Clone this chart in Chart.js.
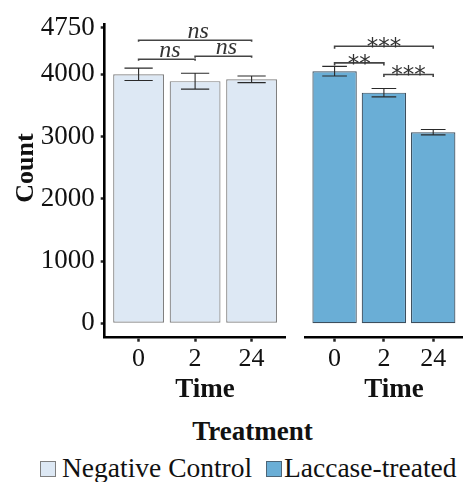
<!DOCTYPE html>
<html>
<head>
<meta charset="utf-8">
<script src="https://cdn.jsdelivr.net/npm/chart.js@4.4.1/dist/chart.umd.min.js"></script>
<style>
  html, body { margin: 0; padding: 0; background: #fff; }
  #wrap { position: relative; width: 465px; height: 482px; overflow: hidden; font-family: "Liberation Serif", "Times New Roman", serif; color: #111; }
  #leftBox { position: absolute; left: 0; top: 0; }
  #rightBox { position: absolute; left: 290px; top: 0; }
  #treatment { position: absolute; left: 0; width: 505px; top: 418px; text-align: center; font-weight: bold; font-size: 27px; line-height: 27px; }
  .key { position: absolute; top: 461px; width: 14px; height: 14px; border: 1px solid #7f7f7f; }
  .key.control { left: 40px; background: #dde8f4; }
  .key.laccase { left: 266px; background: #6aaed6; border-color: #4d6577; }
  .keyText { position: absolute; top: 454px; font-size: 27.5px; line-height: 27px; white-space: nowrap; }
</style>
</head>
<body>
<div id="wrap">
  <div id="leftBox"><canvas id="controlChart" width="300" height="400"></canvas></div>
  <div id="rightBox"><canvas id="laccaseChart" width="175" height="400"></canvas></div>
  <div id="treatment">Treatment</div>
  <div class="key control"></div><span class="keyText" style="left:62px">Negative Control</span>
  <div class="key laccase"></div><span class="keyText" style="left:284px">Laccase-treated</span>
</div>
<script>
const timeLabels = ["0", "2", "24"];
const yTicks = [0, 1000, 2000, 3000, 4000, 4750];

const controlMeans = [4000, 3890, 3920];
const controlErrors = [100, 128, 53];
const laccaseMeans = [4050, 3705, 3070];
const laccaseErrors = [78, 68, 43];

// [from, to, height, label]
const controlBrackets = [[0, 2, 4547, "ns"], [0, 1, 4242, "ns"], [1, 2, 4290, "ns"]];
const laccaseBrackets = [[0, 2, 4451, "***"], [0, 1, 4183, "**"], [1, 2, 3997, "***"]];

const SERIF = "'Liberation Serif', 'Times New Roman', serif";

const errorBars = {
  id: "errorBars",
  afterDatasetsDraw(chart) {
    const { ctx, scales: { x, y } } = chart;
    const ds = chart.data.datasets[0];
    ctx.save();
    ctx.strokeStyle = "#2a2a2a";
    ctx.lineWidth = 1.1;
    ds.data.forEach((pt, i) => {
      const cx = x.getPixelForValue(pt.x);
      const hw = x.getPixelForValue(pt.x + 0.25) - cx;
      const top = y.getPixelForValue(pt.y + ds.errors[i]);
      const bot = y.getPixelForValue(pt.y - ds.errors[i]);
      ctx.beginPath();
      ctx.moveTo(cx, top); ctx.lineTo(cx, bot);
      ctx.moveTo(cx - hw, top); ctx.lineTo(cx + hw, top);
      ctx.moveTo(cx - hw, bot); ctx.lineTo(cx + hw, bot);
      ctx.stroke();
    });
    ctx.restore();
  }
};

const sigBrackets = {
  id: "sigBrackets",
  afterDatasetsDraw(chart) {
    const { ctx, scales: { x, y } } = chart;
    const ds = chart.data.datasets[0];
    const st = ds.bracketStyle;
    ctx.save();
    ctx.strokeStyle = "#444";
    ctx.lineWidth = 1.6;
    ctx.fillStyle = "#333";
    ctx.font = st.font;
    ctx.textAlign = "center";
    ctx.textBaseline = "alphabetic";
    ds.brackets.forEach(([from, to, h, label]) => {
      const x0 = x.getPixelForValue(from);
      const x1 = x.getPixelForValue(to);
      const yy = y.getPixelForValue(h);
      ctx.beginPath();
      ctx.moveTo(x0, yy + st.tip);
      ctx.lineTo(x0, yy);
      ctx.lineTo(x1, yy);
      ctx.lineTo(x1, yy + st.tip);
      ctx.stroke();
      ctx.fillText(label, (x0 + x1) / 2 + st.shift, yy + st.lift);
    });
    ctx.restore();
  }
};

// "Time" under each panel, "Count" beside the left one
const panelTitles = {
  id: "panelTitles",
  afterDraw(chart) {
    const { ctx, chartArea } = chart;
    ctx.save();
    ctx.fillStyle = "#111";
    ctx.font = "bold 27px " + SERIF;
    ctx.textAlign = "center";
    ctx.textBaseline = "alphabetic";
    ctx.fillText("Time", (chartArea.left + chartArea.right) / 2 + 10, 397);
    if (chart.data.datasets[0].showCount) {
      ctx.font = "bold 26px " + SERIF;
      ctx.translate(33, 168);
      ctx.rotate(-Math.PI / 2);
      ctx.fillText("Count", 0, 0);
    }
    ctx.restore();
  }
};

function makePanel(canvasId, means, errors, brackets, colors, opts) {
  return new Chart(document.getElementById(canvasId), {
    type: "bar",
    data: {
      datasets: [{
        data: means.map((v, i) => ({ x: i, y: v })),
        errors: errors,
        brackets: brackets,
        bracketStyle: opts.bracketStyle,
        showCount: opts.showY,
        backgroundColor: colors.fill,
        borderColor: colors.border,
        borderWidth: 1.2,
        borderSkipped: false,
        barPercentage: 0.9,
        categoryPercentage: 1
      }]
    },
    options: {
      responsive: false,
      animation: false,
      layout: { padding: opts.padding },
      plugins: { legend: { display: false }, tooltip: { enabled: false } },
      scales: {
        x: {
          type: "linear",
          min: -0.6,
          max: 2.6,
          offset: false,
          afterBuildTicks: s => { s.ticks = timeLabels.map((_, i) => ({ value: i })); },
          afterFit: s => { s.height = 62.3; },
          grid: { display: true, offset: false, drawOnChartArea: false, drawTicks: true, tickLength: 4, tickWidth: 2.5, tickColor: "#222" },
          border: { display: true, color: "#000", width: 2.6 },
          ticks: {
            callback: v => timeLabels[v],
            font: { family: SERIF, size: 26 },
            color: "#111",
            padding: 2,
            maxRotation: 0,
            autoSkip: false
          }
        },
        y: {
          display: opts.showY,
          min: -231,
          max: 4800,
          afterBuildTicks: s => { s.ticks = yTicks.map(v => ({ value: v })); },
          afterFit: s => { s.width = opts.showY ? 104.7 : 0; },
          grid: { display: true, offset: false, drawOnChartArea: false, drawTicks: true, tickLength: 4, tickWidth: 2.5, tickColor: "#222" },
          border: { display: true, color: "#000", width: 2.6 },
          ticks: {
            callback: v => String(v),
            font: { family: SERIF, size: 27 },
            color: "#111",
            padding: 6
          }
        }
      }
    },
    plugins: [errorBars, sigBrackets, panelTitles]
  });
}

makePanel("controlChart", controlMeans, controlErrors, controlBrackets,
  { fill: "#dde8f4", border: "#7f7f7f" },
  {
    showY: true,
    padding: { left: 0, top: 24.5, right: 14.5, bottom: 0 },
    bracketStyle: { font: "italic 24px " + SERIF, tip: 1.5, lift: -2, shift: 3 }
  });

makePanel("laccaseChart", laccaseMeans, laccaseErrors, laccaseBrackets,
  { fill: "#6aaed6", border: "#3d4f5e" },
  {
    showY: false,
    padding: { left: 15, top: 24.5, right: 2.2, bottom: 0 },
    bracketStyle: { font: "23px 'DejaVu Sans', sans-serif", tip: 2.5, lift: 8, shift: 0 }
  });
</script>
</body>
</html>
